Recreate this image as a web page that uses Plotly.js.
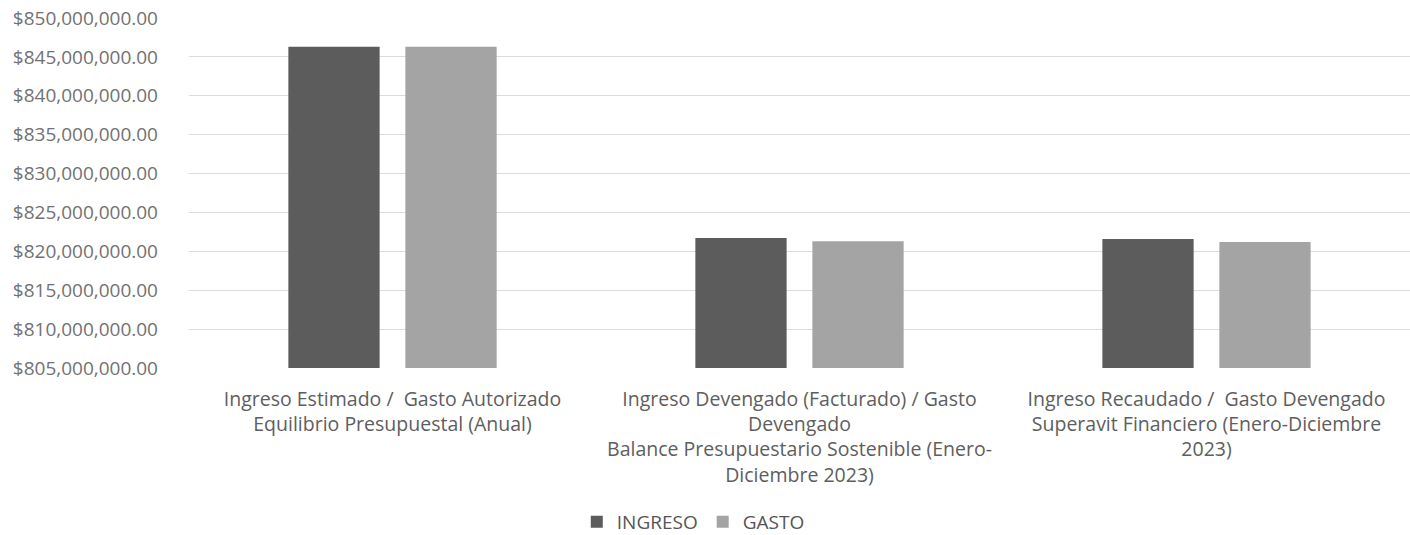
<!DOCTYPE html>
<html>
<head>
<meta charset="utf-8">
<script src="https://cdn.plot.ly/plotly-3.0.1.min.js"></script>
<style>
html,body{margin:0;padding:0;background:#fff;}
#chart{width:1410px;height:535px;}
</style>
</head>
<body>
<div id="chart"></div>
<script>
const categories = [
  "Ingreso Estimado /  Gasto Autorizado<br>Equilibrio Presupuestal (Anual)",
  "Ingreso Devengado (Facturado) / Gasto<br>Devengado<br>Balance Presupuestario Sostenible (Enero-<br>Diciembre 2023)",
  "Ingreso Recaudado /  Gasto Devengado<br>Superavit Financiero (Enero-Diciembre<br>2023)"
];
const ingreso = [846300000, 821700000, 821600000];
const gasto = [846300000, 821300000, 821200000];
const seriesNames = ["INGRESO", "GASTO"];
const yTicks = [805000000, 810000000, 815000000, 820000000, 825000000, 830000000, 835000000, 840000000, 845000000, 850000000];

const FONT = "'Open Sans', 'Noto Sans', sans-serif";
const traces = [
  {type: 'bar', name: seriesNames[0], x: categories, y: ingreso,
   marker: {color: '#5c5c5c'}},
  {type: 'bar', name: seriesNames[1], x: categories, y: gasto,
   marker: {color: '#a4a4a4'}}
];
const layout = {
  width: 1410, height: 535,
  margin: {l: 189, r: 0, t: 18, b: 167, autoexpand: false},
  paper_bgcolor: '#ffffff', plot_bgcolor: '#ffffff',
  barmode: 'group', bargap: 0.425, bargroupgap: 0.22,
  font: {family: FONT, color: '#5e5e5e', size: 19},
  showlegend: true,
  legend: {orientation: 'h', x: 0.413, xanchor: 'center', y: -0.44, yanchor: 'middle',
           font: {family: FONT, size: 19, color: '#555'}, traceorder: 'normal'},
  xaxis: {type: 'category', showgrid: false, showline: false, zeroline: false,
          automargin: false, ticks: '', ticklabelstandoff: 17,
          tickfont: {family: FONT, size: 19.5, color: '#5e5e5e'}},
  yaxis: {range: [805000000, 850000000], tickvals: yTicks, tickformat: '$,.2f',
          automargin: false,
          showgrid: true, gridcolor: '#dcdcdc', gridwidth: 1, zeroline: false,
          showline: false, ticks: '', ticklabelstandoff: 30,
          tickfont: {family: FONT, size: 19, color: '#727272'}}
};
Plotly.newPlot('chart', traces, layout, {displayModeBar: false, staticPlot: true});
</script>
</body>
</html>
